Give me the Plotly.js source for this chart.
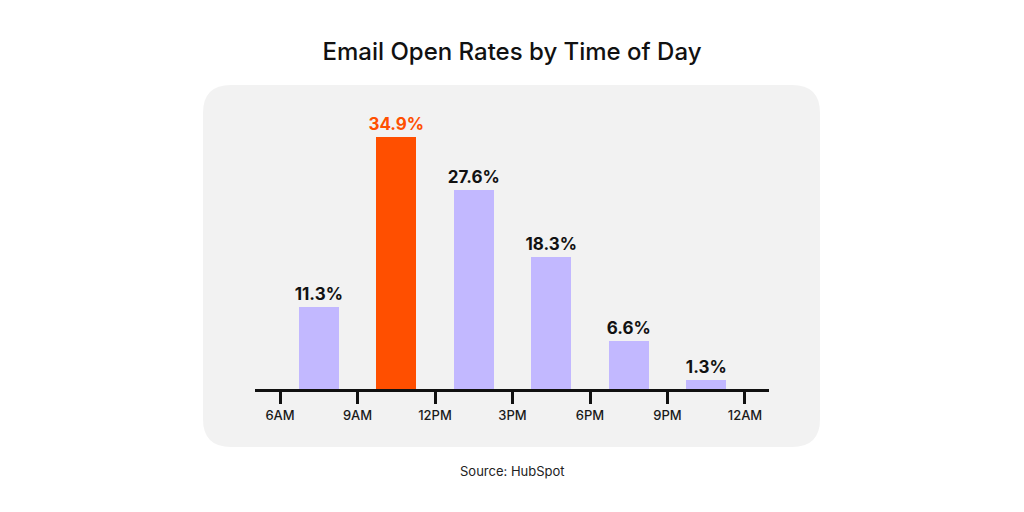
<!DOCTYPE html>
<html>
<head>
<meta charset="utf-8">
<script src="https://cdn.plot.ly/plotly-3.0.1.min.js"></script>
<style>
  html, body { margin: 0; padding: 0; background: #ffffff; }
  #chart { width: 1024px; height: 512px; }
</style>
</head>
<body>
<div id="chart"></div>
<script>
// Three-hour send windows, keyed by the hour each window starts
const slotStartHours = [6, 9, 12, 15, 18, 21];
const openRates = [11.3, 34.9, 27.6, 18.3, 6.6, 1.3];
const rateLabels = ['11.3%', '34.9%', '27.6%', '18.3%', '6.6%', '1.3%'];
const tickHours = [6, 9, 12, 15, 18, 21, 24];
const tickLabels = ['6AM', '9AM', '12PM', '3PM', '6PM', '9PM', '12AM'];

const LAVENDER = '#c2b8ff';
const ORANGE = '#ff4f00';
const peak = Math.max(...openRates);
const barColors = openRates.map(v => v === peak ? ORANGE : LAVENDER);
const textColors = openRates.map(v => v === peak ? ORANGE : '#111111');

// Plot box in pixels
const W = 1024, H = 512;
const M = { l: 255, r: 255, t: 100, b: 123 };
const plotW = W - M.l - M.r, plotH = H - M.t - M.b;
const px = x => (x - M.l) / plotW;          // pixel x -> paper x
const py = y => (H - M.b - y) / plotH;      // pixel y -> paper y

// Rounded grey panel behind the chart
function roundedRect(x0, y0, x1, y1, r) {
  const p = [
    `M ${px(x0 + r)} ${py(y0)}`,
    `L ${px(x1 - r)} ${py(y0)}`,
    `Q ${px(x1)} ${py(y0)} ${px(x1)} ${py(y0 + r)}`,
    `L ${px(x1)} ${py(y1 - r)}`,
    `Q ${px(x1)} ${py(y1)} ${px(x1 - r)} ${py(y1)}`,
    `L ${px(x0 + r)} ${py(y1)}`,
    `Q ${px(x0)} ${py(y1)} ${px(x0)} ${py(y1 - r)}`,
    `L ${px(x0)} ${py(y0 + r)}`,
    `Q ${px(x0)} ${py(y0)} ${px(x0 + r)} ${py(y0)}`,
    'Z'
  ];
  return p.join(' ');
}

const windowHours = 3;
const barWidth = 1.55;
const FONT = 'Inter, "Open Sans", sans-serif';

const trace = {
  type: 'bar',
  x: slotStartHours,
  y: openRates,
  width: barWidth,
  offset: (windowHours - barWidth) / 2,
  marker: { color: barColors, line: { width: 0 } },
  text: rateLabels,
  textposition: 'outside',
  constraintext: 'none',
  cliponaxis: false,
  textfont: { family: FONT, size: 17, weight: 700, color: textColors },
  hoverinfo: 'skip'
};

const layout = {
  width: W, height: H,
  margin: M,
  paper_bgcolor: '#ffffff',
  plot_bgcolor: 'rgba(0,0,0,0)',
  showlegend: false,
  title: {
    text: 'Email Open Rates by Time of Day',
    font: { family: FONT, size: 24, weight: 500, color: '#111111' },
    x: 0.5, xref: 'container', xanchor: 'center',
    y: 1 - 52 / H, yref: 'container', yanchor: 'middle'
  },
  xaxis: {
    range: [5.03, 24.93],
    tickvals: tickHours,
    ticktext: tickLabels,
    showgrid: false,
    zeroline: false,
    showline: true,
    linecolor: '#111111',
    linewidth: 3,
    ticks: 'outside',
    ticklen: 12,
    tickwidth: 3,
    tickcolor: '#111111',
    tickfont: { family: FONT, size: 13, weight: 500, color: '#1a1a1a' },
    fixedrange: true
  },
  yaxis: {
    range: [0, 40],
    visible: false,
    fixedrange: true
  },
  bargap: 0,
  shapes: [{
    type: 'path',
    xref: 'paper', yref: 'paper',
    layer: 'below',
    path: roundedRect(203, 85, 820, 447, 28),
    fillcolor: '#f2f2f2',
    line: { width: 0 }
  }],
  annotations: [{
    text: 'Source: HubSpot',
    xref: 'paper', yref: 'paper',
    x: 0.5, y: py(471),
    xanchor: 'center', yanchor: 'middle',
    showarrow: false,
    font: { family: FONT, size: 13, color: '#222222' }
  }]
};

Plotly.newPlot('chart', [trace], layout, { displayModeBar: false, staticPlot: true });
</script>
</body>
</html>
